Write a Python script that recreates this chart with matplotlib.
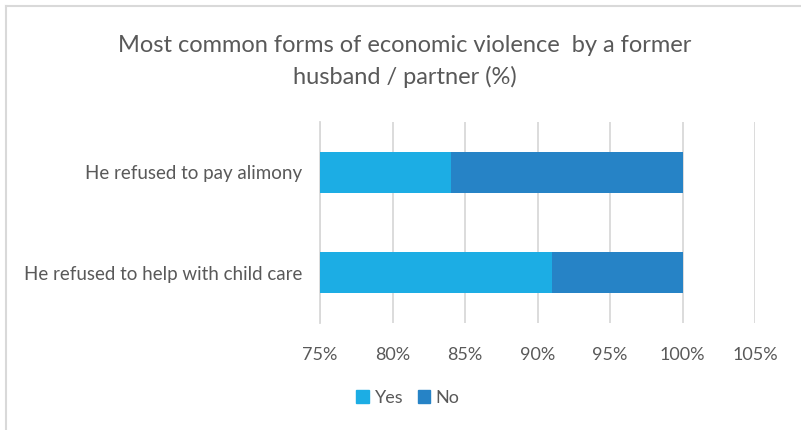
import matplotlib.pyplot as plt
from matplotlib.lines import Line2D
from matplotlib.patches import Patch
import numpy as np

# shares of women reporting each form of economic violence (%)
categories = ['He refused to help with child care', 'He refused to pay alimony']
yes_vals = [91, 84]
no_vals = [9, 16]
xticks = [75, 80, 85, 90, 95, 100, 105]

yes_color = '#1CADE4'
no_color = '#2683C6'
text_color = '#595959'

plt.rcParams['font.family'] = ['Lato', 'DejaVu Sans']

fig = plt.figure(figsize=(8.01, 4.30), dpi=100)
ax = fig.add_axes([320 / 801, 1 - 323 / 430, (755 - 320) / 801, (323 - 122) / 430])

y = np.arange(len(categories))
ax.barh(y, yes_vals, height=0.41, color=yes_color, label='Yes', zorder=3)
ax.barh(y, no_vals, left=yes_vals, height=0.41, color=no_color, label='No', zorder=3)

ax.set_xlim(75, 105)
ax.set_ylim(-0.5, 1.5)
ax.set_xticks(xticks)
ax.set_xticklabels([f'{t}%' for t in xticks])
ax.set_yticks(y)
ax.set_yticklabels(categories)
ax.tick_params(axis='both', length=0, colors=text_color)
ax.tick_params(axis='x', pad=17, labelsize=13)
ax.tick_params(axis='y', pad=13, labelsize=13.5)
ax.grid(axis='x', color='#D9D9D9', linewidth=1.3, zorder=0)
for s in ['top', 'right', 'bottom']:
    ax.spines[s].set_visible(False)
ax.spines['left'].set_color('#D9D9D9')
ax.spines['left'].set_linewidth(1.3)
ax.spines['left'].set_zorder(1)

fig.text(405 / 801, 1 - 46 / 430, 'Most common forms of economic violence  by a former',
         ha='center', va='center', fontsize=17, color=text_color)
fig.text(405 / 801, 1 - 77 / 430, 'husband / partner (%)',
         ha='center', va='center', fontsize=17, color=text_color)

handles = [Patch(color=yes_color, label='Yes'), Patch(color=no_color, label='No')]
fig.legend(handles=handles, loc='center', bbox_to_anchor=(408 / 801, 1 - 398 / 430), ncol=2,
           frameon=False, fontsize=13, labelcolor=text_color, handlelength=0.7,
           handleheight=0.7, handletextpad=0.3, columnspacing=0.8)

# outer chart frame (left and top edges)
fig.add_artist(Line2D([5.5 / 801, 5.5 / 801], [0, 1 - 5.5 / 430], color='#D9D9D9', linewidth=1.5))
fig.add_artist(Line2D([5.5 / 801, 1], [1 - 5.5 / 430, 1 - 5.5 / 430], color='#D9D9D9', linewidth=1.5))

fig.savefig('out.png', dpi=100)
